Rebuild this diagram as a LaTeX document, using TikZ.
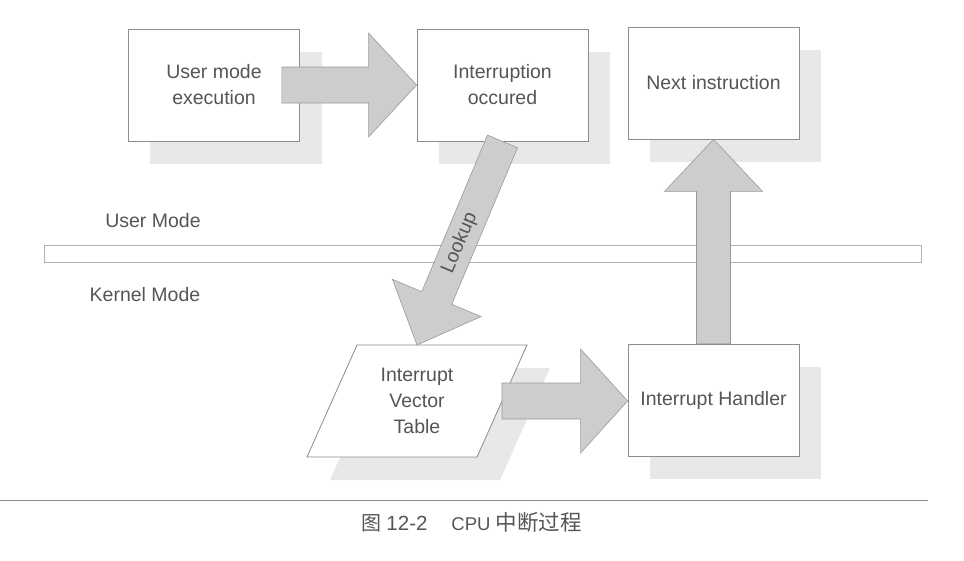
\documentclass[tikz,border=0pt]{standalone}
\usepackage{fontspec}
\setmainfont{Liberation Sans}
\newfontfamily\cjk{Noto Sans CJK SC}
\usetikzlibrary{calc,backgrounds}
\definecolor{txtgray}{HTML}{555555}
\definecolor{linegray}{HTML}{8C8C8C}
\definecolor{bandline}{HTML}{B0B0B0}
\definecolor{arrowfill}{HTML}{CDCDCD}
\definecolor{arrowline}{HTML}{999999}
\definecolor{shadowfill}{HTML}{E8E8E8}
\tikzset{
  box/.style={draw=linegray, line width=0.8pt, fill=white, minimum width=171pt,
    minimum height=112pt, inner sep=0pt, align=center,
    font=\fontsize{19.5}{26}\selectfont, text=txtgray},
  bigarrow/.style={fill=arrowfill, draw=arrowline, line width=0.6pt, line join=miter},
  lbl/.style={font=\fontsize{19.5}{26}\selectfont, text=txtgray, inner sep=0pt},
  bandbox/.style={draw=bandline, line width=0.8pt, fill=white, minimum width=877pt,
    minimum height=17pt, inner sep=0pt},
  plgram/.style={draw=linegray, line width=0.8pt, fill=white, line join=miter},
}
% #1 tail, #2 tip, #3 shaft half width, #4 head half width, #5 head length
\newcommand{\blockarrow}[5]{%
  \coordinate (bah) at ($(#2)!#5!(#1)$);
  \draw[bigarrow] ($(#1)!#3!90:(#2)$) -- ($(bah)!#3!90:(#2)$) -- ($(bah)!#4!90:(#2)$)
    -- (#2) -- ($(bah)!#4!-90:(#2)$) -- ($(bah)!#3!-90:(#2)$) -- ($(#1)!#3!-90:(#2)$) -- cycle;
}
\begin{document}
\begin{tikzpicture}[x=1pt,y=-1pt]
\useasboundingbox (0,0) rectangle (964,560);

% boxes
\node[box] (u)  at (214,85)    {User mode\\execution};
\node[box] (i)  at (502.5,85)  {Interruption\\occured};
\node[box] (ni) at (713.5,83)  {Next instruction};
\node[box] (ih) at (713.5,400) {Interrupt Handler};

% band and mode labels
\node[bandbox] (band) at (482.5,253.5) {};
\node[lbl] (um) at (153,221) {User Mode};
\node[lbl] (km) at (145,295) {Kernel Mode};

% parallelogram (Interrupt Vector Table)
\coordinate (ivtc) at (417,401);
\coordinate (ivt-top) at ($(ivtc)+(0,-56)$);
\draw[plgram] ($(ivtc)+(-60,-56)$) -- ($(ivtc)+(110,-56)$) -- ($(ivtc)+(60,56)$)
  -- ($(ivtc)+(-110,56)$) -- cycle;
\node[lbl, align=center] (ivt) at (ivtc) {Interrupt\\Vector\\Table};

% shadows
\begin{scope}[on background layer]
  \foreach \b in {u,i,ni,ih}{
    \fill[shadowfill] ($(\b.north west)+(22,23)$) rectangle ($(\b.south east)+(22,23)$);
  }
  \fill[shadowfill] ($(ivtc)+(-37,-33)$) -- ($(ivtc)+(133,-33)$) -- ($(ivtc)+(83,79)$)
    -- ($(ivtc)+(-87,79)$) -- cycle;
\end{scope}

% block arrows
\coordinate (a1t) at ($(u.east)+(-18,0)$);
\blockarrow{a1t}{i.west}{18pt}{52pt}{48pt}
\blockarrow{i.south}{ivt-top}{16.3pt}{48pt}{51pt}
\path (ivt-top) -- (i.south) node[lbl, sloped, pos=0.5] (lk) {Lookup};
\coordinate (a3t) at ($(ivtc)+(85,0)$);
\coordinate (a3h) at (ivtc -| ih.west);
\blockarrow{a3t}{a3h}{18pt}{52pt}{47pt}
\coordinate (a4h) at (ih.north |- ni.south);
\blockarrow{ih.north}{a4h}{17pt}{49pt}{52pt}

% caption
\draw[linegray, line width=1pt] (0,500) -- (928,500);
\node[text=txtgray, font=\fontsize{18.5}{20}\selectfont, inner sep=0pt] (cap) at (471.5,522)
  {{\cjk\fontsize{20}{20}\selectfont 图}\hspace{5pt}{\fontsize{20.5}{20}\selectfont 12-2}\hspace{24pt}CPU\hspace{5pt}{\cjk\fontsize{21.5}{20}\selectfont 中断过程}};
\end{tikzpicture}
\end{document}
